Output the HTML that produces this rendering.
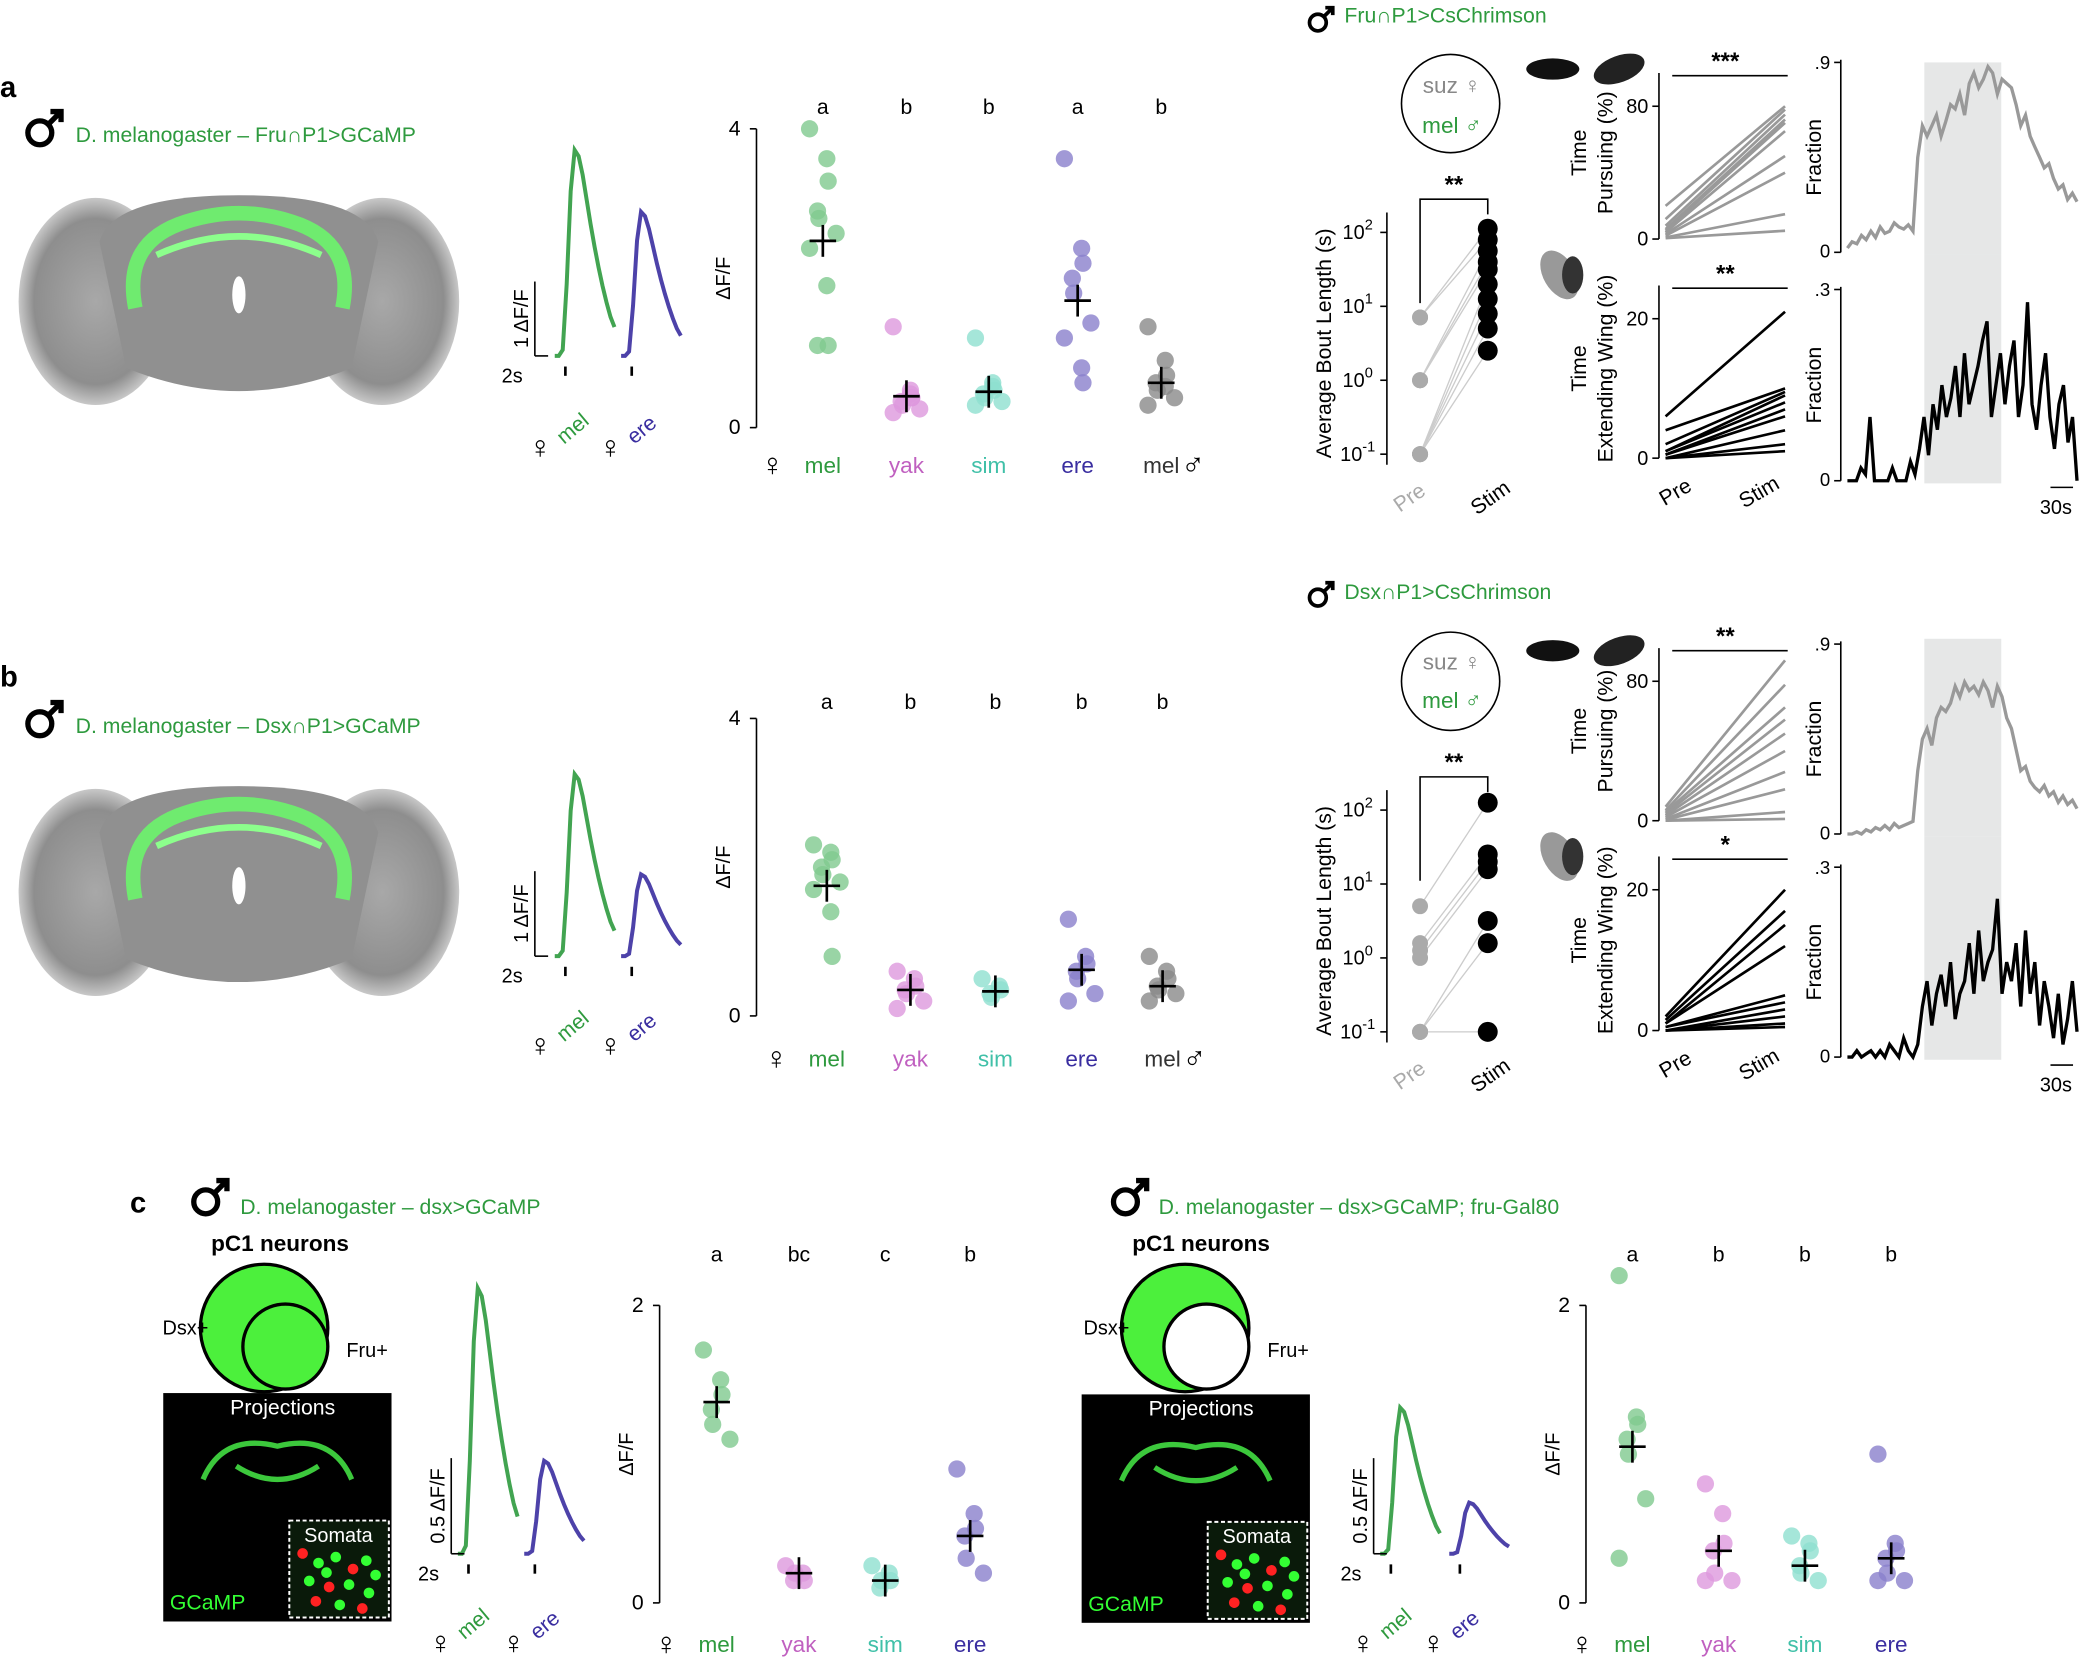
<!DOCTYPE html>
<html><head><meta charset="utf-8"><style>
html,body{margin:0;padding:0;background:#fff}
svg{display:block}
text{font-family:"Liberation Sans",sans-serif}
</style></head><body>
<svg id="fig" width="2081" height="1660" viewBox="0 0 1568 1250" preserveAspectRatio="none" xmlns="http://www.w3.org/2000/svg">
<defs>
<radialGradient id="brainG" cx="50%" cy="50%" r="50%"><stop offset="0" stop-color="#a8a8a8"/><stop offset="0.8" stop-color="#8e8e8e"/><stop offset="1" stop-color="#c8c8c8"/></radialGradient>
</defs>
<g id="static"></g>
</svg>
<script>
// ===== DATA =====
const groupsA = ['mel','yak','sim','ere','mel'];
const lettersA = ['a','b','b','a','b'];
const dotA = [[4.0,3.6,3.3,2.9,2.8,2.6,2.4,1.9,1.1,1.1],[1.35,0.45,0.4,0.35,0.3,0.25,0.2,0.5,0.4],[1.2,0.6,0.5,0.45,0.4,0.35,0.3,0.55],[3.6,2.4,2.2,2.0,1.8,1.4,1.2,0.8,0.6],[1.35,0.9,0.7,0.6,0.5,0.4,0.3,0.55]];
const meanA = [2.5,0.42,0.48,1.7,0.6];
const lettersB = ['a','b','b','b','b'];
const dotB = [[2.3,2.2,2.1,2.0,1.9,1.8,1.7,1.4,0.8],[0.6,0.5,0.4,0.35,0.3,0.2,0.1],[0.5,0.4,0.35,0.3,0.25],[1.3,0.8,0.7,0.6,0.5,0.3,0.2],[0.8,0.6,0.5,0.4,0.35,0.3,0.2]];
const meanB = [1.75,0.35,0.33,0.62,0.4];
const groupsC = ['mel','yak','sim','ere'];
const lettersC1 = ['a','bc','c','b'];
const dotC1 = [[1.7,1.5,1.4,1.3,1.2,1.1],[0.25,0.2,0.15,0.15,0.2],[0.25,0.2,0.15,0.1,0.15],[0.9,0.6,0.5,0.45,0.3,0.2]];
const meanC1 = [1.35,0.2,0.15,0.45];
const lettersC2 = ['a','b','b','b'];
const dotC2 = [[2.2,1.25,1.2,1.1,1.0,0.7,0.3],[0.8,0.6,0.4,0.35,0.2,0.15,0.15],[0.45,0.4,0.35,0.25,0.2,0.15],[1.0,0.4,0.35,0.3,0.2,0.15,0.15]];
const meanC2 = [1.05,0.35,0.25,0.3];
const boutPreA = [0.85,0.85,0,0,0,-1,-1,-1,-1,-1];
const boutStimA = [2.05,1.9,1.75,1.6,1.5,1.3,1.1,0.9,0.7,0.4];
const boutPreB = [0.7,0.2,0.1,0,-1,-1,-1];
const boutStimB = [2.1,1.4,1.3,1.2,0.5,0.2,-1];
const pursuePreA = [20,12,8,6,5,4,3,2,1,0.5];
const pursueStimA = [80,78,75,72,70,65,50,40,15,5];
const wingPreA = [6,4,2,1,1,0.5,0.5,0,0,0];
const wingStimA = [21,10,9.5,9,8,7,6,4,2,1];
const pursuePreB = [8,6,5,4,3,2,1,0.5,0,0];
const pursueStimB = [92,78,65,58,50,40,28,18,5,1];
const wingPreB = [2,1.5,1,1,0.5,0.5,0,0,0,0];
const wingStimB = [20,17,15,12,5,4,3,2,1,0.5];
const fracGrayA = [.02,.05,.04,.08,.06,.1,.07,.12,.09,.1,.14,.12,.11,.13,.1,.45,.6,.55,.6,.65,.55,.62,.7,.68,.75,.65,.8,.85,.78,.82,.88,.85,.75,.82,.8,.78,.7,.6,.65,.55,.5,.45,.4,.42,.35,.3,.32,.25,.28,.24];
const fracBlackA = [0,0,0,.02,.01,.1,0,0,0,0,.02,0,0,0,.03,.01,.05,.1,.04,.12,.08,.15,.1,.13,.18,.1,.2,.12,.15,.18,.22,.25,.1,.15,.2,.12,.18,.22,.1,.15,.28,.12,.08,.15,.2,.1,.05,.12,.15,.06,.1,0];
const fracGrayB = [0,0,.01,0,.02,.01,.03,.02,.04,.02,.05,.03,.04,.05,.06,.3,.45,.5,.42,.55,.6,.58,.62,.7,.65,.72,.68,.7,.66,.72,.68,.6,.7,.65,.55,.5,.4,.3,.32,.25,.22,.2,.23,.18,.2,.15,.18,.14,.16,.12];
const fracBlackB = [0,0,.01,0,.005,.01,0,.01,0,.02,.01,0,.03,.01,0,.02,.08,.12,.05,.1,.13,.08,.15,.06,.1,.12,.18,.1,.2,.12,.15,.17,.25,.1,.15,.12,.18,.08,.2,.1,.15,.05,.12,.08,.03,.1,.02,.06,.12,.04];
const traceShape = [0,0,0.03,0.35,0.8,1,0.97,0.88,0.76,0.64,0.53,0.43,0.34,0.26,0.19,0.14];
const traceAmp = {aMel:1,aEre:0.7,bMel:1,bEre:0.45,c1Mel:1,c1Ere:0.35,c2Mel:1,c2Ere:0.35};

// ===== HELPERS =====
const NS='http://www.w3.org/2000/svg';
const root=document.getElementById('static');
function mk(tag,attrs,name,parent){const e=document.createElementNS(NS,tag);for(const k in attrs)e.setAttribute(k,attrs[k]);


(parent||root).appendChild(e);return e;}
function tx(x,y,s,name,o={}){const e=mk('text',Object.assign({x:x,y:y,'font-size':o.fs||15,fill:o.fill||'#000','text-anchor':o.anchor||'start'},o.extra||{}),name);e.textContent=s;if(o.rot)e.setAttribute('transform',`rotate(${o.rot} ${x} ${y})`);if(o.bold)e.setAttribute('font-weight','bold');return e;}
function ln(x1,y1,x2,y2,name,c='#000',w=1.2){return mk('line',{x1,y1,x2,y2,stroke:c,'stroke-width':w},name);}
const COL={mel:'#2e9a3e',yak:'#c060c0',sim:'#40c0a8',ere:'#3a2ea0',melM:'#333'};
const DOT={mel:'#7fc98f',yak:'#dd99dd',sim:'#8fe0d0',ere:'#8a80cc',melM:'#8a8a8a'};

function dotPlot(px,y0,y1,maxV,ticks,gx,data,means,letters,labels,keys,letterY,labelY,name){
  const sy=v=>y0-(v/maxV)*(y0-y1);
  ln(px,y1,px,y0,name+'-y-axis');
  ticks.forEach(t=>{ln(px-5,sy(t),px,sy(t),name+'-tick');tx(px-12,sy(t)+5,String(t),name+'-tick-label',{fs:16,anchor:'end'});});
  tx(px-20,(y0+y1)/2,'ΔF/F',name+'-y-axis-title',{fs:15,rot:-90,anchor:'middle'});
  gx.forEach((x,i)=>{
    const k=keys[i];
    data[i].forEach((v,j)=>{const off=((j%3)-1)*7+(j%2?3:-3);
      mk('circle',{cx:x+off,cy:sy(v),r:6.5,fill:DOT[k],'fill-opacity':0.8},name+'-dot-'+k);});
    ln(x-10,sy(means[i]),x+10,sy(means[i]),name+'-mean-'+k,'#000',2);
    ln(x,sy(means[i])-12,x,sy(means[i])+12,name+'-sem-'+k,'#000',2);
    tx(x,letterY,letters[i],name+'-sig-letter',{fs:16,anchor:'middle'});
    tx(x,labelY,labels[i],name+'-group-label',{fs:17,anchor:'middle',fill:COL[k]});
  });
  tx(gx[0]-38,labelY+2,'♀',name+'-female-symbol',{fs:24,anchor:'middle'});
  if(keys.length===5)tx(gx[4]+24,labelY+2,'♂',name+'-male-symbol',{fs:24,anchor:'middle'});
}
function boutPlot(ax,y2,ym1,pre,stim,name){
  const sy=v=>y2+(2-v)*(ym1-y2)/3;
  ln(ax,y2-15,ax,ym1+8,name+'-y-axis');
  ['10','10','10','10'].forEach((b,i)=>{const e=[2,1,0,-1][i];ln(ax-5,sy(e),ax,sy(e),name+'-tick');
    const t=tx(ax-22,sy(e)+5,b,name+'-tick-label',{fs:15,anchor:'middle'});const s=document.createElementNS(NS,'tspan');s.setAttribute('dy','-7');s.setAttribute('font-size','11');s.textContent=String(e);t.appendChild(s);});
  tx(ax-42,(y2+ym1)/2,'Average Bout Length (s)',name+'-y-axis-title',{fs:16,rot:-90,anchor:'middle'});
  const xp=ax+25,xs=ax+76;
  pre.forEach((v,i)=>ln(xp,sy(v),xs,sy(stim[i%stim.length]),name+'-pair-line','#ccc',1));
  pre.forEach(v=>mk('circle',{cx:xp,cy:sy(v),r:6,fill:'#aaa'},name+'-pre-dot'));
  stim.forEach(v=>mk('circle',{cx:xs,cy:sy(v),r:7.5,fill:'#000'},name+'-stim-dot'));
  mk('path',{d:`M${xp} ${sy(0.9)-8}V${y2-25}H${xs}V${sy(2.1)-8}`,fill:'none',stroke:'#000','stroke-width':1.2},name+'-sig-bracket');
  tx((xp+xs)/2,y2-30,'**',name+'-sig-stars',{fs:18,anchor:'middle',bold:1});
  tx(xp-5,ym1+37,'Pre',name+'-pre-label',{fs:16,fill:'#aaa',rot:-35,anchor:'middle'});
  tx(xs+5,ym1+37,'Stim',name+'-stim-label',{fs:16,rot:-35,anchor:'middle'});
}
function pairPlot(ax,y0,ytop,maxV,maxLbl,pre,stim,color,stars,title1,title2,name,labels){
  const sy=v=>y0-(v/maxV)*(y0-ytop);
  ln(ax,ytop-25,ax,y0,name+'-y-axis');
  ln(ax-5,y0,ax,y0,name+'-tick');ln(ax-5,ytop,ax,ytop,name+'-tick');
  tx(ax-8,y0+5,'0',name+'-tick-label',{fs:15,anchor:'end'});
  tx(ax-8,ytop+5,String(maxLbl),name+'-tick-label',{fs:15,anchor:'end'});
  tx(ax-55,(y0+ytop)/2-15,title1,name+'-y-title-1',{fs:16,rot:-90,anchor:'middle'});
  tx(ax-35,(y0+ytop)/2-15,title2,name+'-y-title-2',{fs:16,rot:-90,anchor:'middle'});
  ln(ax+10,ytop-23,ax+97,ytop-23,name+'-sig-line');
  tx(ax+50,ytop-28,stars,name+'-sig-stars',{fs:18,anchor:'middle',bold:1});
  pre.forEach((v,i)=>ln(ax+5,sy(v),ax+95,sy(stim[i]),name+'-pair-line',color,2));
  if(labels){tx(ax+15,y0+30,'Pre',name+'-pre-label',{fs:16,rot:-30,anchor:'middle'});tx(ax+78,y0+30,'Stim',name+'-stim-label',{fs:16,rot:-30,anchor:'middle'});}
}
function fracPlot(ax,y0,ytop,maxLbl,maxV,vals,color,name,shadeTop,shadeBot){
  const x0=ax+5,x1=ax+178,sx=i=>x0+i*(x1-x0)/(vals.length-1),sy=v=>y0-(v/maxV)*(y0-ytop);
  if(shadeTop!==undefined)mk('rect',{x:x0+0.335*(x1-x0),y:shadeTop,width:0.335*(x1-x0),height:shadeBot-shadeTop,fill:'#e6e7e7'},name+'-stim-shading');
  ln(ax,ytop-2,ax,y0,name+'-y-axis');
  ln(ax-5,y0,ax,y0,name+'-tick');ln(ax-5,ytop,ax,ytop,name+'-tick');
  tx(ax-8,y0+4,'0',name+'-tick-label',{fs:14,anchor:'end'});
  tx(ax-8,ytop+5,maxLbl,name+'-tick-label',{fs:14,anchor:'end'});
  tx(ax-15,(y0+ytop)/2,'Fraction',name+'-y-axis-title',{fs:16,rot:-90,anchor:'middle'});
  mk('path',{d:vals.map((v,i)=>(i?'L':'M')+sx(i).toFixed(1)+' '+sy(v).toFixed(1)).join(''),fill:'none',stroke:color,'stroke-width':2.5},name+'-trace');
}
function trace(x0,base,height,width,amp,color,name){
  const sx=i=>x0+i*width/(traceShape.length-1);
  mk('path',{d:traceShape.map((v,i)=>(i?'L':'M')+sx(i).toFixed(1)+' '+(base-v*amp*height).toFixed(1)).join(''),fill:'none',stroke:color,'stroke-width':3,'stroke-opacity':0.9},name);
  ln(x0+8,base+8,x0+8,base+15,name+'-stim-tick','#000',2);
}
function brain(cx,cy,name){
  const g=mk('g',{},name);
  mk('ellipse',{cx:cx-108,cy:cy+5,rx:58,ry:78,fill:'url(#brainG)'},name+'-optic-lobe-left',g);
  mk('ellipse',{cx:cx+108,cy:cy+5,rx:58,ry:78,fill:'url(#brainG)'},name+'-optic-lobe-right',g);
  mk('path',{d:`M${cx-105} ${cy-40}Q${cx-95} ${cy-75} ${cx} ${cy-75}Q${cx+95} ${cy-75} ${cx+105} ${cy-40}L${cx+85} ${cy+55}Q${cx} ${cy+90} ${cx-85} ${cy+55}Z`,fill:'#909090'},name+'-central-brain',g);
  mk('ellipse',{cx:cx,cy:cy,rx:5,ry:14,fill:'#fff'},name+'-esophagus',g);
  mk('path',{d:`M${cx-78} ${cy+10}Q${cx-88} ${cy-40} ${cx-40} ${cy-55}Q${cx} ${cy-68} ${cx+40} ${cy-55}Q${cx+88} ${cy-40} ${cx+78} ${cy+10}`,fill:'none',stroke:'#6cf56c','stroke-width':11,'stroke-opacity':0.9},name+'-p1-projection',g);
  mk('path',{d:`M${cx-62} ${cy-30}Q${cx} ${cy-58} ${cx+62} ${cy-30}`,fill:'none',stroke:'#8cff8c','stroke-width':5},name+'-p1-commissure',g);
}
function maleSym(x,y,s,name){const g=mk('g',{},name);mk('circle',{cx:x,cy:y,r:9*s,fill:'none',stroke:'#000','stroke-width':4*s},name+'-ring',g);
 mk('path',{d:`M${x+6*s} ${y-6*s}L${x+15*s} ${y-15*s}M${x+8*s} ${y-16*s}H${x+16*s}V${y-8*s}`,fill:'none',stroke:'#000','stroke-width':4*s},name+'-arrow',g);}
function flyIcons(x,y,name){
  mk('ellipse',{cx:x,cy:y,rx:20,ry:8,fill:'#111'},name+'-fly-1');
  mk('ellipse',{cx:x+50,cy:y,rx:20,ry:10,fill:'#222',transform:`rotate(-20 ${x+50} ${y})`},name+'-fly-2');
  mk('ellipse',{cx:x+5,cy:y+155,rx:12,ry:20,fill:'#999',transform:`rotate(-30 ${x+5} ${y+155})`},name+'-wing-fly');
  mk('ellipse',{cx:x+15,cy:y+155,rx:8,ry:14,fill:'#333'},name+'-wing-fly-body');
}
function venn(cx,cy,inner,name){
  mk('circle',{cx:cx,cy:cy,r:48,fill:'#4cf03c',stroke:'#000','stroke-width':2.5},name+'-dsx-circle');
  mk('circle',{cx:cx+16,cy:cy+14,r:32,fill:inner,stroke:'#000','stroke-width':2.5},name+'-fru-circle');
  tx(cx+12,cy-58,'pC1 neurons',name+'-title',{fs:17,anchor:'middle',bold:1});
  tx(cx-42,cy+5,'Dsx+',name+'-dsx-label',{fs:15,anchor:'end'});
  tx(cx+62,cy+22,'Fru+',name+'-fru-label',{fs:15});
}
const somaDots=[[10,12,'#f22'],[22,20,'#3f3'],[35,15,'#3f3'],[48,25,'#f22'],[58,18,'#3f3'],[15,35,'#3f3'],[30,40,'#f22'],[45,38,'#3f3'],[60,45,'#3f3'],[20,52,'#f22'],[38,55,'#3f3'],[55,58,'#f22'],[65,30,'#3f3'],[28,28,'#3f3']];
function micro(x,y,name){
  mk('rect',{x:x,y:y,width:172,height:172,fill:'#000'},name+'-image');
  mk('path',{d:`M${x+30} ${y+65}Q${x+45} ${y+30} ${x+86} ${y+40}Q${x+127} ${y+30} ${x+142} ${y+65}M${x+55} ${y+55}Q${x+86} ${y+75} ${x+117} ${y+55}`,fill:'none',stroke:'#3cc83c','stroke-width':4},name+'-projection-signal');
  tx(x+90,y+16,'Projections',name+'-projections-label',{fs:16,fill:'#fff',anchor:'middle'});
  mk('rect',{x:x+95,y:y+96,width:75,height:73,fill:'#0a1a0a',stroke:'#fff','stroke-dasharray':'3 2','stroke-width':1.5},name+'-somata-inset');
  somaDots.forEach(d=>mk('circle',{cx:x+95+d[0],cy:y+110+d[1]*0.9,r:4,fill:d[2]},name+'-soma-cell'));
  tx(x+132,y+112,'Somata',name+'-somata-label',{fs:15,fill:'#fff',anchor:'middle'});
  tx(x+5,y+163,'GCaMP',name+'-gcamp-label',{fs:16,fill:'#3f3'});
}
function scaleTr(x,yb,yt,lbl,name){ln(x,yt,x,yb,name+'-bar');ln(x,yb,x+10,yb,name+'-bar');
  tx(x-5,(yt+yb)/2,lbl,name+'-label',{fs:15,rot:-90,anchor:'middle'});tx(x-25,yb+20,'2s',name+'-time-label',{fs:15});}
function traceLabels(x1,x2,y,name){
  tx(x1-18,y,'♀',name+'-female-1',{fs:24,anchor:'middle'});tx(x1,y-10,'mel',name+'-mel-label',{fs:16,fill:COL.mel,rot:-40});
  tx(x2-18,y,'♀',name+'-female-2',{fs:24,anchor:'middle'});tx(x2,y-10,'ere',name+'-ere-label',{fs:16,fill:COL.ere,rot:-40});
}

// ===== PANEL A =====
tx(0,73,'a','panel-a-label',{fs:22,bold:1});
maleSym(30,100,1,'panel-a-male-icon');
tx(57,107,'D. melanogaster – Fru∩P1>GCaMP','panel-a-genotype',{fs:16,fill:COL.mel});
brain(180,222,'panel-a-brain');
trace(418,268,155,45,traceAmp.aMel,COL.mel,'panel-a-trace-mel');
trace(468,268,155,45,traceAmp.aEre,COL.ere,'panel-a-trace-ere');
scaleTr(403,268,212,'1 ΔF/F','panel-a-scale');
traceLabels(425,478,345,'panel-a-trace');
dotPlot(570,322,97,4,[0,4],[620,683,745,812,875],dotA,meanA,lettersA,['mel','yak','sim','ere','mel'],['mel','yak','sim','ere','melM'],86,356,'panel-a-dots');
maleSym(993,17,0.7,'panel-a-chrimson-male');
tx(1013,17,'Fru∩P1>CsChrimson','panel-a-chrimson-title',{fs:16,fill:COL.mel});
mk('circle',{cx:1093,cy:78,r:37,fill:'none',stroke:'#000','stroke-width':1.2},'panel-a-pair-circle');
tx(1094,70,'suz ♀','panel-a-suz-label',{fs:17,fill:'#888',anchor:'middle'});
tx(1094,100,'mel ♂','panel-a-mel-label',{fs:17,fill:COL.mel,anchor:'middle'});
boutPlot(1045,175,342,boutPreA,boutStimA,'panel-a-bout');
flyIcons(1170,52,'panel-a');
pairPlot(1250,180,80,80,80,pursuePreA,pursueStimA,'#999','***','Time','Pursuing (%)','panel-a-pursue',false);
pairPlot(1250,345,240,20,20,wingPreA,wingStimA,'#000','**','Time','Extending Wing (%)','panel-a-wing',true);
fracPlot(1387,190,47,'.9',0.9,fracGrayA,'#999','panel-a-frac-top',47,192);
fracPlot(1387,362,218,'.3',0.3,fracBlackA,'#000','panel-a-frac-bottom',192,364);
ln(1545,367,1562,367,'panel-a-time-scale');tx(1537,387,'30s','panel-a-time-label',{fs:15});

// ===== PANEL B =====
tx(0,517,'b','panel-b-label',{fs:22,bold:1});
maleSym(30,545,1,'panel-b-male-icon');
tx(57,552,'D. melanogaster – Dsx∩P1>GCaMP','panel-b-genotype',{fs:16,fill:COL.mel});
brain(180,667,'panel-b-brain');
trace(418,720,137,45,traceAmp.bMel,COL.mel,'panel-b-trace-mel');
trace(468,720,137,45,traceAmp.bEre,COL.ere,'panel-b-trace-ere');
scaleTr(403,720,656,'1 ΔF/F','panel-b-scale');
traceLabels(425,478,795,'panel-b-trace');
dotPlot(570,765,541,4,[0,4],[623,686,750,815,876],dotB,meanB,lettersB,['mel','yak','sim','ere','mel'],['mel','yak','sim','ere','melM'],534,803,'panel-b-dots');
maleSym(993,450,0.7,'panel-b-chrimson-male');
tx(1013,451,'Dsx∩P1>CsChrimson','panel-b-chrimson-title',{fs:16,fill:COL.mel});
mk('circle',{cx:1093,cy:513,r:37,fill:'none',stroke:'#000','stroke-width':1.2},'panel-b-pair-circle');
tx(1094,504,'suz ♀','panel-b-suz-label',{fs:17,fill:'#888',anchor:'middle'});
tx(1094,533,'mel ♂','panel-b-mel-label',{fs:17,fill:COL.mel,anchor:'middle'});
boutPlot(1045,610,777,boutPreB,boutStimB,'panel-b-bout');
flyIcons(1170,490,'panel-b');
pairPlot(1250,618,513,80,80,pursuePreB,pursueStimB,'#999','**','Time','Pursuing (%)','panel-b-pursue',false);
pairPlot(1250,776,670,20,20,wingPreB,wingStimB,'#000','*','Time','Extending Wing (%)','panel-b-wing',true);
fracPlot(1387,628,485,'.9',0.9,fracGrayB,'#999','panel-b-frac-top',481,630);
fracPlot(1387,796,653,'.3',0.3,fracBlackB,'#000','panel-b-frac-bottom',630,798);
ln(1545,802,1562,802,'panel-b-time-scale');tx(1537,822,'30s','panel-b-time-label',{fs:15});

// ===== PANEL C =====
tx(98,913,'c','panel-c-label',{fs:22,bold:1});
maleSym(155,905,1,'panel-c-left-male-icon');
tx(181,914,'D. melanogaster – dsx>GCaMP','panel-c-left-genotype',{fs:16,fill:COL.mel});
venn(199,1000,'#4cf03c','panel-c-left-venn');
micro(123,1049,'panel-c-left');
trace(345,1170,200,45,traceAmp.c1Mel,COL.mel,'panel-c-left-trace-mel');
trace(395,1170,200,45,traceAmp.c1Ere,COL.ere,'panel-c-left-trace-ere');
scaleTr(340,1170,1098,'0.5 ΔF/F','panel-c-left-scale');
traceLabels(350,405,1245,'panel-c-left-trace');
dotPlot(497,1207,983,2,[0,2],[540,602,667,731],dotC1,meanC1,lettersC1,groupsC,['mel','yak','sim','ere'],950,1244,'panel-c-left-dots');
maleSym(848,905,1,'panel-c-right-male-icon');
tx(873,914,'D. melanogaster – dsx>GCaMP; fru-Gal80','panel-c-right-genotype',{fs:16,fill:COL.mel});
venn(893,1000,'#fff','panel-c-right-venn');
micro(815,1050,'panel-c-right');
trace(1040,1170,110,45,traceAmp.c2Mel,COL.mel,'panel-c-right-trace-mel');
trace(1092,1170,110,45,traceAmp.c2Ere,COL.ere,'panel-c-right-trace-ere');
scaleTr(1035,1170,1098,'0.5 ΔF/F','panel-c-right-scale');
traceLabels(1045,1098,1245,'panel-c-right-trace');
dotPlot(1195,1207,983,2,[0,2],[1230,1295,1360,1425],dotC2,meanC2,lettersC2,groupsC,['mel','yak','sim','ere'],950,1244,'panel-c-right-dots');
</script>
</body></html>
